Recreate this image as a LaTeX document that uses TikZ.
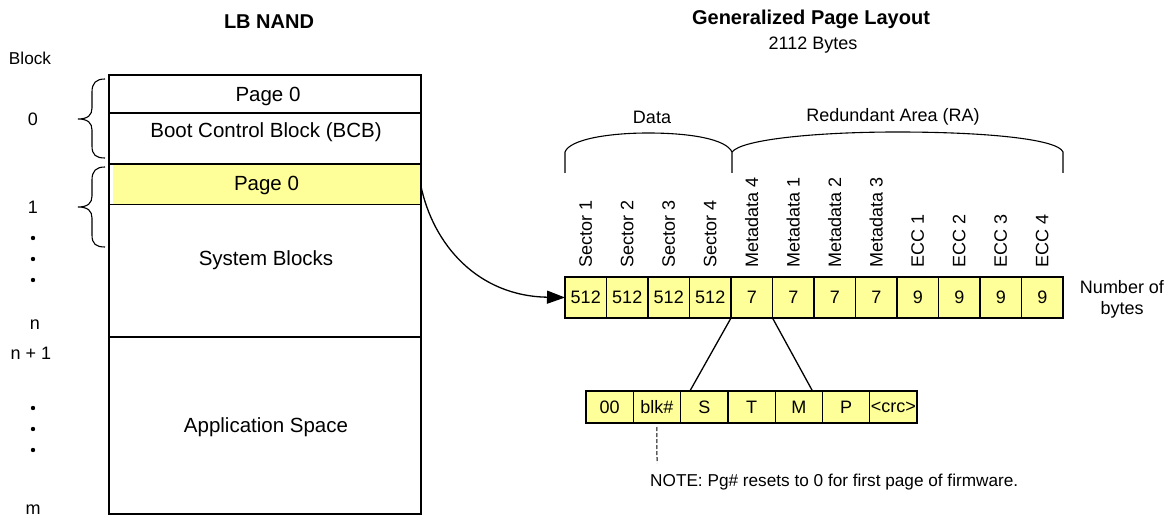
\documentclass[tikz,border=0pt]{standalone}
\usepackage{fontspec}
\setmainfont{Liberation Sans}
\usetikzlibrary{arrows.meta,calc}
\definecolor{cellyellow}{RGB}{255,255,153}
\tikzset{
  lbl/.style={font=\fontsize{18}{21}\selectfont, inner sep=0pt},
  small/.style={font=\fontsize{17.2}{20}\selectfont, inner sep=0pt},
  big/.style={font=\fontsize{20.5}{24}\selectfont, inner sep=0pt},
  ttl/.style={font=\fontsize{20}{24}\selectfont\bfseries, inner sep=0pt},
  cell/.style={draw, line width=1.3pt, fill=cellyellow, minimum width=41.5pt,
    minimum height=41pt, inner sep=0pt, outer sep=0pt, font=\fontsize{18}{21}\selectfont},
  bcell/.style={cell, minimum width=47.3pt, minimum height=32pt},
  vlab/.style={lbl, rotate=90, anchor=west},
  frame/.style={line width=2pt},
  thinframe/.style={line width=1.2pt},
  bracepath/.style={line width=1.1pt},
  conn/.style={line width=1.3pt, -{Triangle[length=18pt,width=13pt]}},
}
\begin{document}
\begin{tikzpicture}[x=1pt,y=-1pt]
\useasboundingbox (0,0) rectangle (1170,518);

% titles
\node[ttl] (t1) at (269,22) {LB NAND};
\node[ttl] (t2) at (811,19) {Generalized Page Layout};
\node[lbl] (t3) at (813,45) {2112 Bytes};

% block labels
\node[small] (blk) at (30,58) {Block};
\node[lbl] (k0) at (33,119) {0};
\node[lbl] (k1) at (33,207) {1};
\foreach \yy [count=\i] in {238,259,280,408,429,450}
  \fill (33,\yy) circle (2.2pt);
\node[lbl] (kn) at (35,325) {n};
\node[lbl] (kn1) at (31,353) {n + 1};
\node[lbl] (km) at (33,510) {m};

% left braces
\draw[bracepath] (105,79) .. controls (96,79) and (92,83) .. (92,92) -- (92,108)
  .. controls (92,115) and (88,119) .. (78,119)
  .. controls (88,119) and (92,123) .. (92,130) -- (92,146)
  .. controls (92,155) and (96,158) .. (105,158);
\draw[bracepath] (105,167) .. controls (96,167) and (92,171) .. (92,180) -- (92,196)
  .. controls (92,203) and (88,207) .. (78,207)
  .. controls (88,207) and (92,211) .. (92,218) -- (92,235)
  .. controls (92,244) and (96,247) .. (105,247);

% left NAND column
\node[fill=cellyellow, minimum width=308pt, minimum height=40pt, inner sep=0pt,
  font=\fontsize{20.5}{24}\selectfont] (pg) at (266.5,185) {Page 0};
\draw[frame] (109,75) rectangle (421,514);
\draw[thinframe] (109,113) -- (421,113);
\draw[frame] (109,164.5) -- (421,164.5);
\draw[line width=1pt] (109,205) -- (421,205);
\draw[frame] (109,337.5) -- (421,337.5);
\node[big] (p0) at (268,96) {Page 0};
\node[big] (bcb) at (266,132) {Boot Control Block (BCB)};
\node[big] (sys) at (266,260) {System Blocks};
\node[big] (app) at (266,427) {Application Space};

% top braces
\node[lbl] (data) at (652,117) {Data};
\node[lbl] (ra) at (893,117) {Redundant Area (RA)};
\draw[bracepath] (565,173) -- (565,152) .. controls (570,139) and (610,133) .. (648,133)
  .. controls (690,133) and (726,139) .. (732,152) -- (732,173);
\draw[bracepath] (732,152) .. controls (742,139) and (820,132) .. (897,132)
  .. controls (985,132) and (1058,139) .. (1063,152) -- (1063,173);

% page layout cells
\foreach \v [count=\i] in {512,512,512,512,7,7,7,7,9,9,9,9}
  \node[cell] (c\i) at ({565+41.5*(\i-0.5)},297.5) {\v};
\foreach \t [count=\i] in {Sector 1,Sector 2,Sector 3,Sector 4,Metadata 4,Metadata 1,Metadata 2,Metadata 3,ECC 1,ECC 2,ECC 3,ECC 4}
  \node[vlab] (v\i) at ({565+41.5*(\i-0.5)},268) {\t};
\node[lbl, align=center] (nb) at (1122,299) {Number of\\bytes};

% metadata detail
\foreach \v [count=\i] in {00,blk\#,S,T,M,P,<crc>}
  \node[bcell] (b\i) at ({586+47.3*(\i-0.5)},407) {\v};
\draw[line width=1.3pt] (c5.south west) -- ($(b3.north west)+(9.3,0)$);
\draw[line width=1.3pt] (c5.south east) -- ($(b5.north east)+(-10,0)$);
\coordinate (dend) at (657,463);
\draw[line width=1pt, dash pattern=on 4pt off 2pt] ($(b2.south)+(0,4)$) -- (dend);
\node[small, anchor=west] (note) at (650,482) {NOTE: Pg\# resets to 0 for first page of firmware.};

% connector
\draw[conn] (pg.east) .. controls (433,245) and (478,296) .. (c1.west);
\end{tikzpicture}
\end{document}
